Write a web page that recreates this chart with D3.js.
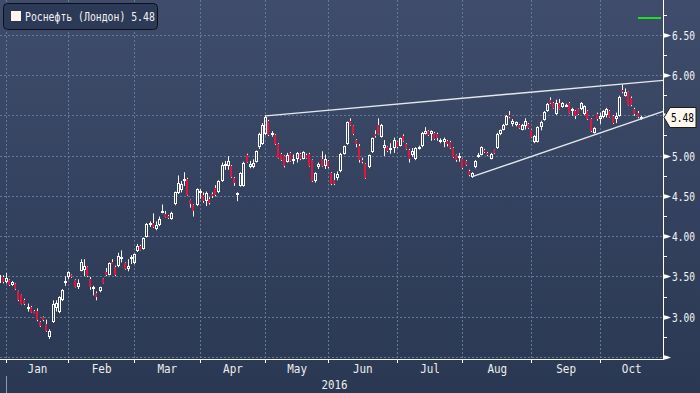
<!DOCTYPE html>
<html>
<head>
<meta charset="utf-8">
<script src="https://cdn.jsdelivr.net/npm/d3@7"></script>
<style>
  html, body { margin: 0; padding: 0; background: #2c3a56; }
  svg { display: block; }
  text { font-family: "DejaVu Sans Mono", monospace; }
</style>
</head>
<body>
<div id="chart"></div>
<script>
// one candle per London trading day, starting 30 Dec 2015
const opens = [
  3.43, 3.50, 3.44, 3.46, 3.40, 3.41, 3.32, 3.27, 3.22, 3.11,
  3.13, 3.08, 3.08, 2.94, 3.00, 2.92, 2.76, 2.94, 3.11, 3.06,
  3.21, 3.43, 3.50, 3.52, 3.46, 3.37, 3.58, 3.59, 3.62, 3.47,
  3.36, 3.30, 3.32, 3.47, 3.56, 3.53, 3.69, 3.62, 3.63, 3.72,
  3.67, 3.60, 3.72, 3.67, 3.82, 3.89, 3.85, 4.00, 4.14, 4.17,
  4.09, 4.14, 4.30, 4.28, 4.26, 4.22, 4.40, 4.54, 4.58, 4.69,
  4.72, 4.45, 4.39, 4.39, 4.54, 4.52, 4.44, 4.47, 4.53, 4.60,
  4.56, 4.69, 4.88, 4.88, 4.88, 4.73, 4.52, 4.63, 4.63, 5.01,
  4.86, 4.86, 4.93, 5.11, 5.15, 5.27, 5.43, 5.26, 5.26, 5.15,
  5.03, 5.00, 4.93, 5.04, 4.94, 4.96, 5.03, 4.97, 5.02, 5.03,
  4.95, 4.69, 4.87, 4.96, 4.88, 4.94, 4.79, 4.70, 4.73, 4.81,
  5.03, 5.15, 5.43, 5.37, 5.20, 5.12, 4.95, 4.90, 4.86, 5.05,
  5.27, 5.39, 5.24, 5.10, 5.11, 5.07, 5.10, 5.17, 5.13, 5.25,
  5.15, 5.08, 5.01, 4.96, 5.10, 5.12, 5.28, 5.31, 5.28, 5.29,
  5.28, 5.17, 5.17, 5.19, 5.18, 5.10, 5.01, 4.98, 4.96, 4.94,
  4.82, 4.74, 4.86, 4.99, 5.02, 5.08, 5.04, 4.97, 5.07, 5.10,
  5.27, 5.33, 5.39, 5.51, 5.40, 5.39, 5.39, 5.33, 5.37, 5.40,
  5.32, 5.17, 5.18, 5.36, 5.45, 5.56, 5.70, 5.66, 5.52, 5.66,
  5.61, 5.62, 5.66, 5.56, 5.56, 5.58, 5.59, 5.52, 5.56, 5.46,
  5.29, 5.52, 5.46, 5.48, 5.51, 5.56, 5.50, 5.46, 5.50, 5.82,
  5.75, 5.79, 5.72, 5.58, 5.54, 5.47
];
const highs = [
  3.55, 3.52, 3.55, 3.47, 3.45, 3.42, 3.33, 3.28, 3.23, 3.17,
  3.14, 3.09, 3.11, 2.95, 3.01, 2.97, 2.85, 3.21, 3.21, 3.26,
  3.35, 3.51, 3.57, 3.53, 3.47, 3.47, 3.72, 3.72, 3.63, 3.50,
  3.39, 3.32, 3.38, 3.48, 3.61, 3.68, 3.72, 3.64, 3.80, 3.83,
  3.68, 3.72, 3.77, 3.79, 3.91, 3.90, 3.99, 4.17, 4.19, 4.29,
  4.19, 4.25, 4.40, 4.32, 4.27, 4.31, 4.56, 4.76, 4.69, 4.80,
  4.73, 4.46, 4.40, 4.60, 4.59, 4.55, 4.56, 4.49, 4.55, 4.64,
  4.70, 4.92, 4.94, 5.00, 4.89, 4.74, 4.55, 4.80, 4.93, 5.03,
  4.94, 4.96, 5.07, 5.29, 5.41, 5.51, 5.45, 5.31, 5.27, 5.16,
  5.04, 5.01, 5.04, 5.05, 5.02, 5.05, 5.04, 5.06, 5.03, 5.04,
  4.96, 4.80, 4.92, 5.06, 5.02, 4.95, 4.80, 4.79, 4.81, 5.04,
  5.13, 5.43, 5.47, 5.38, 5.21, 5.15, 4.98, 4.91, 5.02, 5.23,
  5.32, 5.47, 5.40, 5.20, 5.12, 5.16, 5.23, 5.18, 5.23, 5.27,
  5.16, 5.09, 5.10, 5.11, 5.13, 5.30, 5.36, 5.32, 5.32, 5.30,
  5.29, 5.22, 5.23, 5.20, 5.19, 5.11, 5.02, 5.04, 4.97, 4.95,
  4.83, 4.80, 4.95, 5.04, 5.12, 5.09, 5.05, 5.04, 5.08, 5.29,
  5.33, 5.40, 5.51, 5.56, 5.46, 5.43, 5.40, 5.40, 5.47, 5.41,
  5.33, 5.26, 5.37, 5.44, 5.56, 5.66, 5.73, 5.67, 5.70, 5.71,
  5.67, 5.65, 5.67, 5.60, 5.57, 5.59, 5.67, 5.63, 5.57, 5.47,
  5.36, 5.54, 5.54, 5.57, 5.60, 5.57, 5.51, 5.54, 5.75, 5.89,
  5.84, 5.80, 5.74, 5.60, 5.56, 5.50
];
const lows = [
  3.40, 3.42, 3.42, 3.39, 3.39, 3.34, 3.20, 3.16, 3.15, 3.07,
  3.06, 3.05, 2.95, 2.88, 2.95, 2.82, 2.73, 2.93, 3.07, 3.05,
  3.20, 3.39, 3.47, 3.49, 3.37, 3.35, 3.57, 3.51, 3.50, 3.34,
  3.27, 3.21, 3.31, 3.42, 3.51, 3.52, 3.66, 3.51, 3.62, 3.68,
  3.59, 3.57, 3.66, 3.66, 3.81, 3.83, 3.84, 3.99, 4.12, 4.11,
  4.08, 4.13, 4.29, 4.24, 4.22, 4.21, 4.39, 4.53, 4.55, 4.63,
  4.51, 4.36, 4.25, 4.38, 4.47, 4.42, 4.38, 4.40, 4.48, 4.50,
  4.54, 4.68, 4.83, 4.83, 4.73, 4.63, 4.44, 4.62, 4.62, 4.92,
  4.85, 4.85, 4.92, 5.09, 5.14, 5.26, 5.25, 5.24, 5.14, 4.97,
  4.94, 4.86, 4.92, 4.93, 4.90, 4.92, 4.95, 4.96, 4.97, 4.87,
  4.68, 4.67, 4.84, 4.87, 4.84, 4.85, 4.64, 4.64, 4.70, 4.80,
  5.02, 5.14, 5.38, 5.26, 5.11, 4.92, 4.91, 4.72, 4.85, 5.04,
  5.23, 5.27, 5.23, 5.00, 5.05, 5.03, 5.04, 5.10, 5.12, 5.18,
  5.08, 4.92, 4.99, 4.95, 5.08, 5.11, 5.27, 5.25, 5.19, 5.20,
  5.19, 5.16, 5.11, 5.12, 5.09, 4.98, 4.93, 4.93, 4.84, 4.88,
  4.75, 4.73, 4.85, 4.98, 5.01, 5.04, 5.00, 4.96, 5.03, 5.09,
  5.26, 5.32, 5.38, 5.47, 5.37, 5.37, 5.34, 5.32, 5.33, 5.34,
  5.23, 5.16, 5.17, 5.32, 5.44, 5.55, 5.65, 5.59, 5.51, 5.58,
  5.60, 5.61, 5.53, 5.50, 5.46, 5.51, 5.57, 5.51, 5.45, 5.30,
  5.28, 5.44, 5.40, 5.47, 5.48, 5.48, 5.40, 5.41, 5.49, 5.78,
  5.74, 5.63, 5.62, 5.50, 5.47, 5.45
];
const closes = [
  3.52, 3.44, 3.49, 3.40, 3.44, 3.35, 3.21, 3.17, 3.16, 3.13,
  3.07, 3.06, 2.96, 2.89, 2.96, 2.83, 2.83, 3.16, 3.18, 3.25,
  3.34, 3.45, 3.56, 3.50, 3.38, 3.43, 3.69, 3.64, 3.51, 3.37,
  3.38, 3.25, 3.37, 3.43, 3.52, 3.67, 3.67, 3.53, 3.76, 3.75,
  3.60, 3.64, 3.75, 3.78, 3.89, 3.84, 3.98, 4.16, 4.17, 4.12,
  4.15, 4.22, 4.32, 4.25, 4.23, 4.30, 4.55, 4.67, 4.65, 4.72,
  4.52, 4.41, 4.32, 4.59, 4.57, 4.44, 4.54, 4.42, 4.50, 4.52,
  4.69, 4.89, 4.90, 4.94, 4.74, 4.67, 4.54, 4.79, 4.92, 4.93,
  4.90, 4.92, 5.06, 5.27, 5.39, 5.49, 5.26, 5.29, 5.15, 4.98,
  4.95, 4.88, 5.02, 4.94, 4.96, 5.04, 4.96, 5.05, 4.98, 4.88,
  4.69, 4.79, 4.90, 4.88, 4.96, 4.86, 4.65, 4.65, 4.78, 5.03,
  5.12, 5.42, 5.39, 5.28, 5.15, 4.95, 4.93, 4.73, 5.01, 5.22,
  5.25, 5.28, 5.39, 5.14, 5.06, 5.10, 5.20, 5.11, 5.22, 5.19,
  5.09, 4.96, 5.06, 5.10, 5.11, 5.29, 5.31, 5.26, 5.31, 5.21,
  5.22, 5.20, 5.21, 5.15, 5.10, 4.99, 4.95, 5.00, 4.85, 4.89,
  4.76, 4.79, 4.94, 5.01, 5.11, 5.05, 5.01, 5.03, 5.04, 5.28,
  5.32, 5.39, 5.50, 5.48, 5.44, 5.42, 5.35, 5.39, 5.44, 5.35,
  5.24, 5.25, 5.36, 5.42, 5.55, 5.65, 5.66, 5.60, 5.66, 5.59,
  5.66, 5.64, 5.54, 5.59, 5.50, 5.52, 5.66, 5.62, 5.46, 5.31,
  5.35, 5.46, 5.50, 5.56, 5.58, 5.49, 5.41, 5.50, 5.73, 5.79,
  5.80, 5.64, 5.63, 5.52, 5.48, 5.48
];

const monthNames = ["Jan", "Feb", "Mar", "Apr", "May", "Jun", "Jul", "Aug", "Sep", "Oct"];
const monthStarts = [2, 22, 43, 64, 85, 105, 127, 148, 170, 192];
const yearLabel = "2016";
const yMajor = [2.5, 3.0, 3.5, 4.0, 4.5, 5.0, 5.5, 6.0, 6.5];
const yMinor = [2.75, 3.25, 3.75, 4.25, 4.75, 5.25, 5.75, 6.25, 6.75];
const seriesName = "Роснефть (Лондон)";
const lastPrice = 5.48;
// trend lines drawn by hand on the original: [index, price]
const trendUpper = [[85, 5.50], [212, 5.94]];
const trendLower = [[151, 4.745], [212, 5.555]];
const greenLevel = 6.72;
const greenFrom = 204;

const W = 700, H = 393;
const axisX = 663, axisY = 359;

const svg = d3.select("#chart").append("svg")
  .attr("width", W)
  .attr("height", H);

const grad = svg.append("defs").append("linearGradient")
  .attr("id", "bg")
  .attr("x1", 0).attr("y1", 0).attr("x2", 0).attr("y2", 1);
grad.append("stop").attr("offset", "0%").attr("stop-color", "#3f4c6b");
grad.append("stop").attr("offset", "100%").attr("stop-color", "#2a3853");

svg.append("rect")
  .attr("width", W).attr("height", H)
  .attr("fill", "url(#bg)");

const x = d3.scaleLinear().domain([2, 192]).range([6.2, 600.5]);
const y = d3.scaleLinear().domain([2.5, 6.5]).range([357.5, 35.3]);
const px = v => Math.floor(v) + 0.5;

// grid
svg.append("g").selectAll("line")
  .data(yMajor)
  .enter().append("line")
  .attr("x1", 0).attr("x2", axisX)
  .attr("y1", d => px(y(d))).attr("y2", d => px(y(d)))
  .attr("stroke", "#607b98")
  .attr("stroke-dasharray", "2,2");

svg.append("g").selectAll("line")
  .data(monthStarts)
  .enter().append("line")
  .attr("x1", d => px(x(d))).attr("x2", d => px(x(d)))
  .attr("y1", 0).attr("y2", axisY)
  .attr("stroke", "#607b98")
  .attr("stroke-dasharray", "2,2");

// candles
const idx = d3.range(opens.length);
const candles = svg.append("g");
const wick = "#f4f4f4";

idx.forEach(i => {
  const o = opens[i], h = highs[i], l = lows[i], c = closes[i];
  const cx = px(x(i));
  const top = Math.round(y(Math.max(o, c)));
  const bot = Math.round(y(Math.min(o, c)));
  const bh = Math.max(bot - top, 2) - 1;
  if (c >= o) {
    if (y(h) < top) {
      candles.append("line")
        .attr("x1", cx).attr("x2", cx)
        .attr("y1", y(h)).attr("y2", top)
        .attr("stroke", wick);
    }
    if (y(l) > top + bh + 1) {
      candles.append("line")
        .attr("x1", cx).attr("x2", cx)
        .attr("y1", top + bh + 1).attr("y2", y(l))
        .attr("stroke", wick);
    }
    candles.append("rect")
      .attr("x", cx - 1).attr("y", top + 0.5)
      .attr("width", 2).attr("height", bh)
      .attr("fill", "none")
      .attr("stroke", "#ffffff");
  } else {
    candles.append("line")
      .attr("x1", cx).attr("x2", cx)
      .attr("y1", y(h)).attr("y2", y(l))
      .attr("stroke", wick);
    candles.append("rect")
      .attr("x", cx - 1.5).attr("y", top)
      .attr("width", 2).attr("height", bh + 1)
      .attr("fill", "#e0163f");
  }
});

// trend lines
const line = d3.line().x(d => x(d[0])).y(d => y(d[1]));
[trendUpper, trendLower].forEach(t => {
  svg.append("path")
    .attr("d", line(t))
    .attr("fill", "none")
    .attr("stroke", "#e4e7ee")
    .attr("stroke-width", 1.4);
});

// level marker at top right
svg.append("line")
  .attr("x1", x(greenFrom)).attr("x2", axisX - 2)
  .attr("y1", Math.round(y(greenLevel))).attr("y2", Math.round(y(greenLevel)))
  .attr("stroke", "#1ee01e")
  .attr("stroke-width", 2);

// axes
svg.append("line")
  .attr("x1", axisX + 0.5).attr("x2", axisX + 0.5)
  .attr("y1", 0).attr("y2", axisY + 1)
  .attr("stroke", "#ffffff");
svg.append("line")
  .attr("x1", 0).attr("x2", axisX + 1)
  .attr("y1", axisY + 0.5).attr("y2", axisY + 0.5)
  .attr("stroke", "#ffffff");

const ly = Math.round(y(lastPrice)) + 0.5;

const yAxis = svg.append("g");
yAxis.selectAll("polygon")
  .data(yMajor)
  .enter().append("polygon")
  .attr("points", d => {
    const yy = px(y(d));
    return `${axisX},${yy - 2.5} ${axisX + 4},${yy - 1.5} ${axisX + 8},${yy} ${axisX + 4},${yy + 1.5} ${axisX},${yy + 2.5}`;
  })
  .attr("fill", "#ffffff");

yAxis.selectAll("line")
  .data(yMinor)
  .enter().append("line")
  .attr("x1", axisX).attr("x2", axisX + 4)
  .attr("y1", d => px(y(d))).attr("y2", d => px(y(d)))
  .attr("stroke", "#ffffff");

// labels hidden under the last-price tag are left out
yAxis.selectAll("text")
  .data(yMajor.filter(d => d > 2.5 && Math.abs(y(d) - ly) > 14))
  .enter().append("text")
  .attr("x", axisX + 9)
  .attr("y", d => y(d) + 4.5)
  .attr("font-size", 12)
  .attr("textLength", 23)
  .attr("lengthAdjust", "spacingAndGlyphs")
  .attr("fill", "#f4f4f4")
  .text(d => d3.format(".2f")(d));

// month ticks and labels
const xAxis = svg.append("g");
xAxis.selectAll("line")
  .data(monthStarts)
  .enter().append("line")
  .attr("x1", d => px(x(d))).attr("x2", d => px(x(d)))
  .attr("y1", axisY + 1).attr("y2", axisY + 4)
  .attr("stroke", "#ffffff");

xAxis.selectAll("text")
  .data(monthNames)
  .enter().append("text")
  .attr("x", (d, k) => {
    const a = x(monthStarts[k]);
    const b = k + 1 < monthStarts.length ? x(monthStarts[k + 1]) : axisX;
    return (a + b) / 2;
  })
  .attr("y", 373)
  .attr("text-anchor", "middle")
  .attr("font-size", 13)
  .attr("textLength", d => d.length * 6.6)
  .attr("lengthAdjust", "spacingAndGlyphs")
  .attr("fill", "#eeeeee")
  .text(d => d);

svg.append("line")
  .attr("x1", px(x(monthStarts[0]))).attr("x2", px(x(monthStarts[0])))
  .attr("y1", 376).attr("y2", H)
  .attr("stroke", "#8e99ad");

svg.append("text")
  .attr("x", (x(monthStarts[0]) + axisX) / 2)
  .attr("y", 389)
  .attr("text-anchor", "middle")
  .attr("font-size", 13)
  .attr("textLength", 26)
  .attr("lengthAdjust", "spacingAndGlyphs")
  .attr("fill", "#eeeeee")
  .text(yearLabel);

// last price tag
svg.append("polygon")
  .attr("points", `${axisX + 1},${ly} ${axisX + 7},${ly - 10} ${W - 4},${ly - 10} ${W - 4},${ly + 10} ${axisX + 7},${ly + 10}`)
  .attr("fill", "#fff8ee")
  .attr("stroke", "#1b1b1b");
svg.append("text")
  .attr("x", axisX + 8)
  .attr("y", ly + 4.5)
  .attr("font-size", 12)
  .attr("textLength", 23)
  .attr("lengthAdjust", "spacingAndGlyphs")
  .attr("fill", "#000000")
  .text(d3.format(".2f")(lastPrice));

// legend
const legend = svg.append("g");
legend.append("rect")
  .attr("x", 3.5).attr("y", 3.5)
  .attr("width", 154).attr("height", 26)
  .attr("rx", 4)
  .attr("fill", "#2d3a57")
  .attr("stroke", "#0d1019");
legend.append("rect")
  .attr("x", 11).attr("y", 11)
  .attr("width", 10).attr("height", 10)
  .attr("fill", "#fff4f0");
const legendText = `${seriesName} ${d3.format(".2f")(lastPrice)}`;
legend.append("text")
  .attr("x", 25)
  .attr("y", 21)
  .attr("font-size", 11.5)
  .attr("textLength", legendText.length * 5.9)
  .attr("lengthAdjust", "spacingAndGlyphs")
  .attr("fill", "#f2f2f2")
  .text(legendText);
</script>
</body>
</html>
